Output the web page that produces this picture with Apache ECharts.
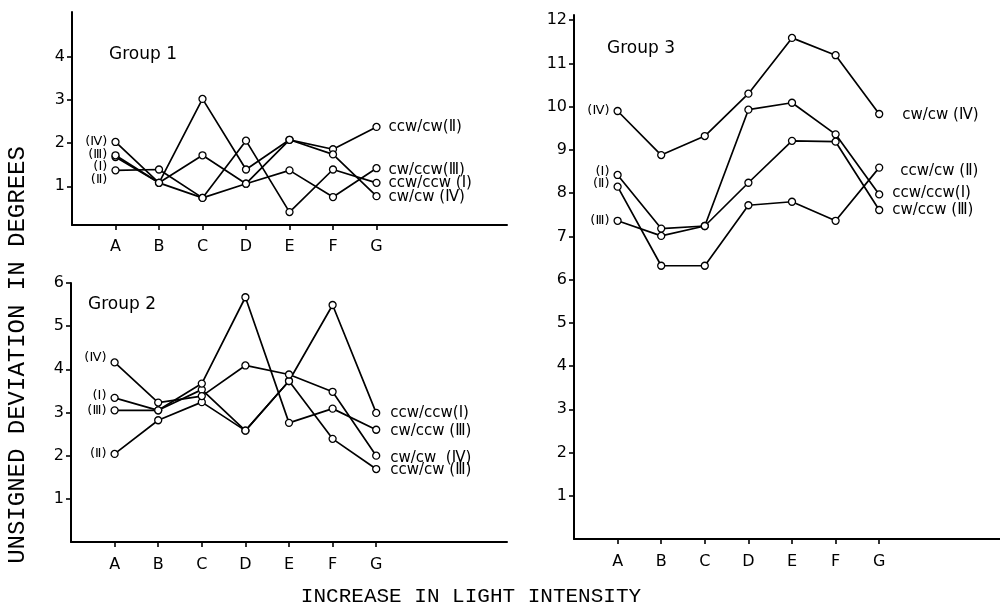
<!DOCTYPE html>
<html>
<head>
<meta charset="utf-8">
<script src="https://cdn.jsdelivr.net/npm/echarts@6/dist/echarts.min.js"></script>
<style>
html,body{margin:0;padding:0;background:#fff;}
#chart{width:1000px;height:609px;}
</style>
</head>
<body>
<div id="chart"></div>
<script>
// ---- data ----
const categories = ['A', 'B', 'C', 'D', 'E', 'F', 'G'];
const seriesNames = ['I', 'II', 'III', 'IV'];
const leftLabels = ['(Ⅰ)', '(Ⅱ)', '(Ⅲ)', '(Ⅳ)'];

// Group 1
const g1I   = [1.68, 1.08, 0.73, 2.06, 0.40, 1.39, 1.08];
const g1II  = [1.37, 1.39, 0.73, 1.06, 2.08, 1.86, 2.38];
const g1III = [1.72, 1.08, 1.72, 1.06, 1.37, 0.75, 1.42];
const g1IV  = [2.03, 1.08, 3.03, 1.39, 2.08, 1.74, 0.77];
const g1RightLabels = ['ccw/ccw (Ⅰ)', 'ccw/cw(Ⅱ)', 'cw/ccw(Ⅲ)', 'cw/cw (Ⅳ)'];
const g1Ticks = [1, 2, 3, 4];

// Group 2
const g2I   = [3.34, 3.05, 3.53, 2.58, 3.73, 5.49, 2.99];
const g2II  = [2.04, 2.82, 3.24, 2.58, 3.73, 2.39, 1.69];
const g2III = [3.05, 3.05, 3.67, 5.67, 2.76, 3.09, 2.60];
const g2IV  = [4.16, 3.23, 3.38, 4.09, 3.88, 3.48, 2.00];
const g2RightLabels = ['ccw/ccw(Ⅰ)', 'ccw/cw (Ⅲ)', 'cw/ccw (Ⅲ)', 'cw/cw  (Ⅳ)'];
const g2Ticks = [1, 2, 3, 4, 5, 6];

// Group 3
const g3I   = [8.42, 7.18, 7.24, 9.93, 10.09, 9.36, 7.97];
const g3II  = [8.15, 6.32, 6.32, 7.72, 7.80, 7.36, 8.59];
const g3III = [7.36, 7.01, 7.24, 8.24, 9.21, 9.19, 7.61];
const g3IV  = [9.90, 8.88, 9.32, 10.30, 11.59, 11.19, 9.83];
const g3RightLabels = ['ccw/ccw(Ⅰ)', 'ccw/cw (Ⅱ)', 'cw/ccw (Ⅲ)', 'cw/cw (Ⅳ)'];
const g3Ticks = [1, 2, 3, 4, 5, 6, 7, 8, 9, 10, 11, 12];

const groupTitles = ['Group 1', 'Group 2', 'Group 3'];
const yTitle = 'UNSIGNED DEVIATION IN DEGREES';
const xTitle = 'INCREASE IN LIGHT INTENSITY';

// ---- styling / layout ----
const INK = '#000';
const tickFont = 'DejaVu Sans';
const labelFont = 'DejaVu Sans';
const monoFont = 'Liberation Mono';

const groups = [
  { data: [g1I, g1II, g1III, g1IV], right: g1RightLabels, ticks: g1Ticks,
    grid: { left: 72, width: 435, top: 12, bottom: 384 }, ymin: 0.1, ymax: 5.05, xMargin: 14,
    leftOffsets: [[0, 10], [0, 9], [0, -1], [0, 0]],
    rightOffsets: [[0, 0], [0, 0], [0, 2], [0, 1]], rightDist: 12 },
  { data: [g2I, g2II, g2III, g2IV], right: g2RightLabels, ticks: g2Ticks,
    grid: { left: 71, width: 436, top: 283, bottom: 67 }, ymin: 0, ymax: 6, xMargin: 15,
    leftOffsets: [[0, -2], [0, 0], [0, 0], [0, -5]],
    rightOffsets: [[0, 0], [0, 1], [0, 1], [0, 2]], rightDist: 14 },
  { data: [g3I, g3II, g3III, g3IV], right: g3RightLabels, ticks: g3Ticks,
    grid: { left: 574, width: 436, top: 15, bottom: 70 }, ymin: 0, ymax: 12.12, xMargin: 15,
    leftOffsets: [[0, -3], [0, -3], [0, 0], [0, 0]],
    rightOffsets: [[3, -1], [11, 3], [3, 0], [13, 1]], rightDist: 10 }
];

const axisData = [''].concat(categories, ['', '', '']);

const grids = [], xAxes = [], yAxes = [], series = [];
groups.forEach((g, gi) => {
  grids.push(Object.assign({ containLabel: false, outerBoundsMode: 'none' }, g.grid));
  xAxes.push({
    type: 'category', gridIndex: gi, data: axisData, boundaryGap: false,
    axisLine: { show: true, lineStyle: { color: INK, width: 2 } },
    axisTick: { show: true, length: 5, inside: false, interval: (i, v) => v !== '',
      lineStyle: { color: INK, width: 1.6 } },
    axisLabel: { interval: 0, margin: g.xMargin, color: INK, fontSize: 16, fontFamily: tickFont },
    splitLine: { show: false }
  });
  yAxes.push({
    type: 'value', gridIndex: gi, min: g.ymin, max: g.ymax,
    axisLine: { show: true, onZero: false, lineStyle: { color: INK, width: 2 } },
    axisTick: { show: true, length: 5, customValues: g.ticks, lineStyle: { color: INK, width: 1.6 } },
    axisLabel: { customValues: g.ticks, margin: 7, color: INK, fontSize: 16, fontFamily: tickFont },
    splitLine: { show: false }
  });
  g.data.forEach((vals, si) => {
    const d = ['-'].concat(vals.map((v, k) => {
      if (k === 0) {
        return { value: v, label: { show: true, position: 'left', distance: 4,
          formatter: leftLabels[si], offset: g.leftOffsets[si],
          fontSize: 13, fontFamily: labelFont, color: INK } };
      }
      return v;
    }));
    series.push({
      type: 'line', name: groupTitles[gi] + ' ' + seriesNames[si],
      xAxisIndex: gi, yAxisIndex: gi, data: d,
      symbol: 'circle', symbolSize: 7, showAllSymbol: true,
      lineStyle: { color: INK, width: 1.7 },
      itemStyle: { color: '#fff', borderColor: INK, borderWidth: 1.3 },
      endLabel: { show: true, formatter: g.right[si], distance: g.rightDist,
        offset: g.rightOffsets[si], fontSize: 15, fontFamily: labelFont, color: INK },
      emphasis: { disabled: true },
      animation: false
    });
  });
});

const chart = echarts.init(document.getElementById('chart'), null, { renderer: 'canvas' });
chart.setOption({
  backgroundColor: '#fff',
  animation: false,
  title: [
    { text: groupTitles[0], left: 109, top: 46 },
    { text: groupTitles[1], left: 88, top: 296 },
    { text: groupTitles[2], left: 607, top: 40 }
  ].map(t => Object.assign(t, { padding: 0,
    textStyle: { fontSize: 17, fontWeight: 'normal', fontFamily: labelFont, color: INK } })),
  grid: grids,
  xAxis: xAxes,
  yAxis: yAxes,
  series: series,
  graphic: [
    { type: 'text', x: 18, y: 355, rotation: Math.PI / 2,
      style: { text: yTitle, fontSize: 24, fontFamily: monoFont, fill: INK,
        textAlign: 'center', textVerticalAlign: 'middle' } },
    { type: 'text', x: 471, y: 596,
      style: { text: xTitle, fontSize: 21, fontFamily: monoFont, fill: INK,
        textAlign: 'center', textVerticalAlign: 'middle' } }
  ]
});
</script>
</body>
</html>
